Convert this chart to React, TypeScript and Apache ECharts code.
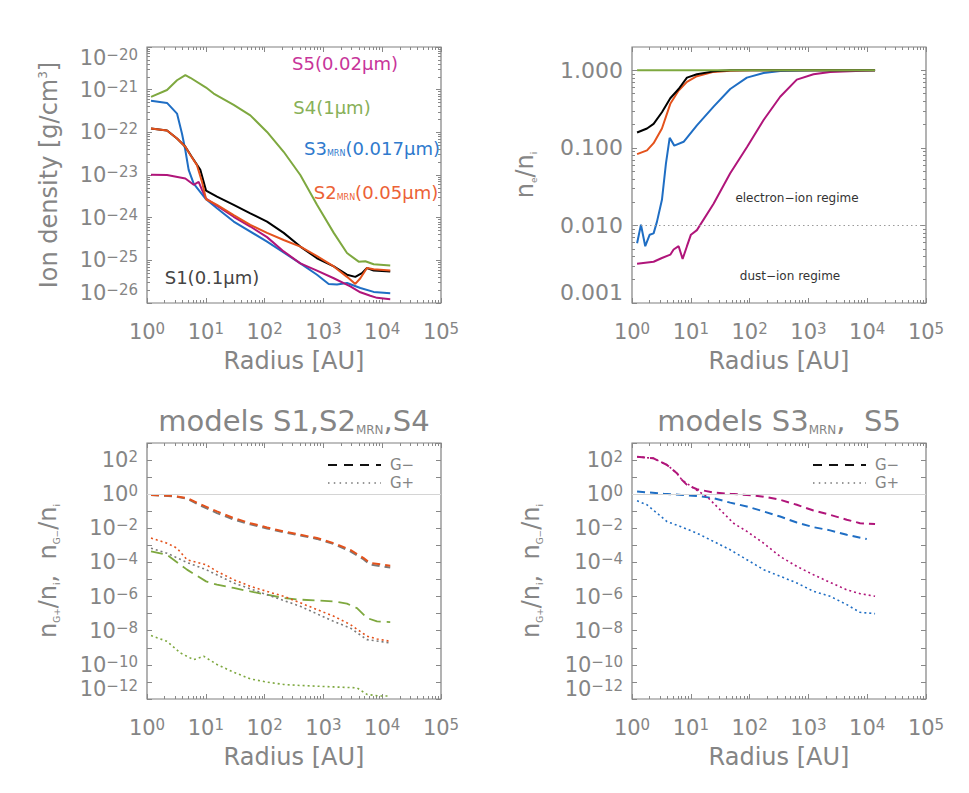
import React, { useEffect, useRef } from "react";
import * as echarts from "echarts";

// ---------------- Data ----------------
// Panel 1: ion density [g/cm^3] vs radius [AU]   pairs: [radius, density]
const densS1: [number, number][] = [[1.17,1.23e-22],[2.19,1.1e-22],[3.24,7.2e-23],[4.49,4.6e-23],[5.83,2.6e-23],[8.07,1.32e-23],[10.1,4.3e-24],[15.5,3.1e-24],[29.8,2.0e-24],[57.2,1.26e-24],[110,8.1e-25],[211,4.4e-25],[405,2.1e-25],[778,1.12e-25],[1500,7.2e-26],[2520,4.6e-26],[3490,4.1e-26],[4530,5.0e-26],[5510,6.6e-26],[7160,5.75e-26],[13700,5.5e-26]];
const densS2: [number, number][] = [[1.17,1.23e-22],[2.19,1.1e-22],[3.24,7.2e-23],[4.49,4.6e-23],[5.46,2.95e-23],[7.08,1.7e-23],[8.62,6.9e-24],[10.1,2.7e-24],[15.5,2.0e-24],[29.8,1.15e-24],[57.2,6.8e-25],[110,4.4e-25],[211,3.0e-25],[405,2.1e-25],[778,1.26e-25],[1500,7.2e-26],[2520,4.1e-26],[3490,2.8e-26],[4250,3.8e-26],[5510,6.6e-26],[7160,6.2e-26],[13700,5.75e-26]];
const densS3: [number, number][] = [[1.17,5.5e-22],[2.19,4.9e-22],[3.24,2.75e-22],[3.94,9.3e-23],[4.49,3.8e-23],[5.11,1.32e-23],[6.22,6.3e-24],[10.1,2.7e-24],[15.5,1.66e-24],[29.8,8.1e-25],[110,2.75e-25],[405,8.5e-26],[778,4.6e-26],[1230,2.8e-26],[1700,2.7e-26],[2520,2.95e-26],[4250,2.24e-26],[7160,1.82e-26],[13700,1.7e-26]];
const densS4: [number, number][] = [[1.17,6.8e-22],[2.19,9.8e-22],[3.24,1.66e-21],[4.49,2.2e-21],[5.46,1.9e-21],[10.1,1.12e-21],[13.6,8.1e-22],[29.8,4.4e-22],[57.2,2.5e-22],[110,1.02e-22],[211,3.5e-23],[405,1.0e-23],[778,2.0e-24],[1500,4.4e-25],[2520,1.48e-25],[3980,9.3e-26],[5160,9.5e-26],[7160,8.1e-26],[13700,7.6e-26]];
const densS5: [number, number][] = [[1.17,1.02e-23],[2.19,1.0e-23],[4.49,8.3e-24],[6.22,5.9e-24],[7.56,6.9e-24],[8.62,4.5e-24],[10.1,2.8e-24],[29.8,1.05e-24],[57.2,6.2e-25],[110,3.5e-25],[211,1.62e-25],[405,8.5e-26],[778,5.75e-26],[1500,3.8e-26],[2870,2.45e-26],[4250,1.78e-26],[6280,1.48e-26],[8160,1.32e-26],[13700,1.23e-26]];

// Panel 2: n_e / n_i vs radius
const eRatioS1: [number, number][] = [[1.22,0.158],[1.8,0.178],[2.33,0.204],[3.23,0.288],[4.48,0.437],[6.21,0.575],[8.6,0.805],[12.7,0.89],[24.4,0.97],[46.8,1.0],[13600,1.0]];
const eRatioS2: [number, number][] = [[1.22,0.083],[1.8,0.093],[2.33,0.115],[3.23,0.178],[4.48,0.37],[6.21,0.55],[8.6,0.71],[12.7,0.84],[24.4,0.955],[46.8,0.99],[100,1.0],[13600,1.0]];
const eRatioS3: [number, number][] = [[1.22,0.0059],[1.42,0.0102],[1.68,0.0054],[2.0,0.0076],[2.33,0.0079],[2.66,0.0112],[3.23,0.0214],[3.78,0.063],[4.37,0.135],[5.24,0.107],[7.55,0.12],[12.7,0.195],[24.4,0.34],[46.8,0.575],[89.9,0.805],[173,0.925],[331,0.98],[1220,1.0],[13600,1.0]];
const eRatioS4: [number, number][] = [[1.22,1.0],[13600,1.0]];
const eRatioS5: [number, number][] = [[1.22,0.0032],[2.33,0.0034],[3.23,0.0038],[4.48,0.0042],[5.1,0.0049],[6.21,0.0054],[7.26,0.0037],[8.6,0.0054],[10.05,0.0076],[12.7,0.0087],[24.4,0.019],[46.8,0.047],[89.9,0.102],[173,0.229],[331,0.457],[635,0.76],[1220,0.89],[2340,0.955],[13600,1.0]];

// Panel 3: grain charge fractions, models S1, S2_MRN, S4
const gMinusS1: [number, number][] = [[1.17,0.89],[2.84,0.76],[4.79,0.55],[8.07,0.22],[15.5,0.078],[29.8,0.033],[57.2,0.017],[110,0.0098],[211,0.006],[405,0.0038],[778,0.0024],[1500,0.0012],[2870,0.00045],[4840,0.00015],[6280,7.5e-5],[13700,5.1e-5]];
const gMinusS2: [number, number][] = [[1.17,0.91],[2.84,0.79],[4.79,0.59],[8.07,0.26],[15.5,0.098],[29.8,0.04],[57.2,0.02],[110,0.0112],[211,0.0066],[405,0.0042],[778,0.0027],[1500,0.00135],[2870,0.00055],[4840,0.00018],[6280,9.3e-5],[13700,6.5e-5]];
const gMinusS4: [number, number][] = [[1.17,4.5e-4],[2.19,2.8e-4],[4.79,3.8e-5],[10.1,7.8e-6],[15.5,5.0e-6],[29.8,3.2e-6],[57.2,2.0e-6],[110,1.29e-6],[211,8.3e-7],[405,6.6e-7],[778,6.0e-7],[1500,5.2e-7],[2520,3.9e-7],[3730,2.1e-7],[5510,5.6e-8],[8160,3.5e-8],[13700,3.2e-8]];
const gPlusS1: [number, number][] = [[1.17,6.9e-4],[2.19,3.5e-4],[4.79,1.0e-4],[10.1,3.8e-5],[29.8,6.3e-6],[110,1.29e-6],[405,2.7e-7],[1500,3.5e-8],[2870,1.45e-8],[5510,3.0e-9],[13700,1.95e-9]];
const gPlusS2: [number, number][] = [[1.17,2.7e-3],[2.19,1.35e-3],[3.24,6.9e-4],[4.79,1.45e-4],[10.1,7.4e-5],[15.5,3.0e-5],[29.8,9.8e-6],[57.2,4.0e-6],[110,2.0e-6],[211,1.05e-6],[405,4.3e-7],[778,1.74e-7],[1500,7.1e-8],[2870,2.3e-8],[5510,4.8e-9],[8160,3.3e-9],[13700,2.4e-9]];
const gPlusS4: [number, number][] = [[1.17,5.2e-9],[2.19,2.4e-9],[3.69,5.0e-10],[6.22,2.0e-10],[9.2,3.2e-10],[15.5,1.05e-10],[29.8,3.7e-11],[57.2,1.5e-11],[110,9.8e-12],[211,7.1e-12],[405,6.2e-12],[1500,5.1e-12],[3730,4.5e-12],[5510,1.86e-12],[9120,1.5e-12],[13700,1.5e-12]];

// Panel 4: grain charge fractions, models S3_MRN, S5
const gMinusS3: [number, number][] = [[1.22,1.45],[3.45,1.05],[12.7,0.79],[24.4,0.59],[46.8,0.32],[89.9,0.19],[173,0.098],[331,0.049],[635,0.022],[1220,0.0117],[2340,0.0076],[4490,0.0042],[9820,0.00234]];
const gMinusS5: [number, number][] = [[1.22,158],[2.33,126],[3.93,52],[5.81,17],[7.07,6.9],[8.6,3.5],[12.7,1.95],[24.4,1.26],[46.8,1.05],[89.9,0.91],[173,0.72],[331,0.47],[635,0.24],[1220,0.11],[2340,0.062],[4490,0.032],[7560,0.02],[13600,0.0178]];
const gPlusS3: [number, number][] = [[1.22,0.41],[1.8,0.24],[2.66,0.078],[3.93,0.025],[6.62,0.0129],[12.7,5.2e-3],[24.4,1.7e-3],[46.8,5.5e-4],[89.9,1.45e-4],[173,3.8e-5],[331,1.55e-5],[635,6.3e-6],[1220,2.04e-6],[2340,1.05e-6],[4490,3.4e-7],[7560,1.2e-7],[13600,1.0e-7]];
const gPlusS5: [number, number][] = [[1.22,158],[2.33,126],[3.93,52],[5.81,17],[7.07,6.9],[11.2,2.24],[18.8,0.72],[31.7,0.12],[53.3,0.02],[89.9,6.6e-3],[173,1.35e-3],[331,2.24e-4],[635,5.9e-5],[1220,1.9e-5],[2340,6.8e-6],[4490,2.5e-6],[7560,1.48e-6],[13600,1.05e-6]];

// Axis ranges (decades)
const X_DECADES = [0, 5];
const DENS_DECADES = [-26, -20];
const ERATIO_RANGE = [0.001, 2];
const GFRAC_DECADES = [-12, 3];
const ERATIO_LABELS = [0.001, 0.01, 0.1, 1];
const GFRAC_LABEL_EXPS = [-12, -10, -8, -6, -4, -2, 0, 2];

// ---------------- Style ----------------
const FONT = "DejaVu Sans";
const GRAY = "#858585";
const AXIS = "#888888";
const C_BLACK = "#000000";
const C_RED = "#e4521c";
const C_BLUE = "#1f6ec4";
const C_GREEN = "#7ea83f";
const C_MAG = "#b0157a";
const C_GRAYLINE = "#7a7a7a";

const GRIDS = [
  { left: 147, top: 47 },
  { left: 632, top: 47 },
  { left: 147, top: 443 },
  { left: 632, top: 443 },
];
const GW = 294;
const GH = 256;

const lg = Math.log10;
const toLog = (pts: [number, number][]) => pts.map(([r, v]) => [lg(r), lg(v)]);

function intRange(lo: number, hi: number) {
  const a: number[] = [];
  for (let e = lo; e <= hi; e++) a.push(e);
  return a;
}
function minorLogTicks(lo: number, hi: number, maxLog: number) {
  const a: number[] = [];
  for (let e = lo; e < hi + 1; e++) {
    for (let k = 2; k <= 9; k++) {
      const t = e + lg(k);
      if (t < maxLog - 1e-9 && t > lo) a.push(t);
    }
  }
  return a;
}

// superscript: small lineHeight + top alignment raises it above the "10"
const powRich = {
  b: { fontSize: 21, lineHeight: 21, color: GRAY, fontFamily: FONT },
  s: { fontSize: 15, lineHeight: 6, verticalAlign: "top", color: GRAY, fontFamily: FONT },
};
const powFmt = (v: number) => {
  const e = Math.round(v);
  return "{b|10}{s|" + (e < 0 ? "\u2212" + -e : String(e)) + "}";
};

const tickLine = { color: AXIS, width: 1 };

function xAxesFor(g: number) {
  const [lo, hi] = X_DECADES;
  const base: any = {
    type: "value",
    gridIndex: g,
    min: lo,
    max: hi,
    interval: 1,
    axisLine: { show: false, onZero: false },
    splitLine: { show: false },
    axisPointer: { show: false },
  };
  const major = intRange(lo, hi);
  const minor = minorLogTicks(lo, hi - 1, hi);
  return [
    {
      ...base,
      position: "bottom",
      axisTick: { show: true, inside: true, length: 5, customValues: major, lineStyle: tickLine },
      axisLabel: {
        show: true,
        customValues: major,
        formatter: powFmt,
        rich: powRich,
        margin: 18,
        hideOverlap: false,
        showMinLabel: true,
        showMaxLabel: true,
      },
      name: "Radius [AU]",
      nameLocation: "middle",
      nameGap: 46,
      nameTextStyle: { fontSize: 24, color: GRAY, fontFamily: FONT },
    },
    { ...base, position: "bottom", axisTick: { show: true, inside: true, length: 3, customValues: minor, lineStyle: tickLine }, axisLabel: { show: false } },
    { ...base, position: "top", axisTick: { show: true, inside: true, length: 5, customValues: major, lineStyle: tickLine }, axisLabel: { show: false } },
    { ...base, position: "top", axisTick: { show: true, inside: true, length: 3, customValues: minor, lineStyle: tickLine }, axisLabel: { show: false } },
  ];
}

function yAxesFor(g: number, cfg: any) {
  const base: any = {
    type: "value",
    gridIndex: g,
    min: cfg.min,
    max: cfg.max,
    interval: 1,
    axisLine: { show: false, onZero: false },
    splitLine: { show: false },
    axisPointer: { show: false },
  };
  const axes: any[] = [
    {
      ...base,
      position: "left",
      axisTick: { show: true, inside: true, length: 5, customValues: cfg.major, lineStyle: tickLine },
      axisLabel: {
        show: true,
        customValues: cfg.labels,
        formatter: cfg.formatter,
        rich: powRich,
        fontSize: 22,
        color: GRAY,
        fontFamily: FONT,
        margin: 9,
        hideOverlap: false,
        showMinLabel: true,
        showMaxLabel: true,
        ...(cfg.labelExtra || {}),
      },
      name: cfg.name,
      nameLocation: "middle",
      nameGap: cfg.nameGap,
      nameTextStyle: { fontSize: 24, color: GRAY, fontFamily: FONT, rich: cfg.nameRich },
    },
    { ...base, position: "left", axisTick: { show: cfg.minor.length > 0, inside: true, length: 3, customValues: cfg.minor.length ? cfg.minor : [cfg.min], lineStyle: tickLine }, axisLabel: { show: false } },
    { ...base, position: "right", axisTick: { show: true, inside: true, length: 5, customValues: cfg.major, lineStyle: tickLine }, axisLabel: { show: false } },
    { ...base, position: "right", axisTick: { show: cfg.minor.length > 0, inside: true, length: 3, customValues: cfg.minor.length ? cfg.minor : [cfg.min], lineStyle: tickLine }, axisLabel: { show: false } },
  ];
  return axes;
}

function lineSeries(data: [number, number][], color: string, g: number, width = 2, type: any = "solid", extra: any = {}) {
  return {
    type: "line",
    data: toLog(data),
    xAxisIndex: 4 * g,
    yAxisIndex: 4 * g,
    symbol: "none",
    showSymbol: false,
    silent: true,
    lineStyle: { color, width, type },
    itemStyle: { color },
    emphasis: { disabled: true },
    ...extra,
  };
}

const subRich = (size: number, color: string) => ({
  sub: { fontSize: size, fill: color, fontFamily: FONT, verticalAlign: "bottom", lineHeight: size },
});

function gText(x: number, y: number, text: string, size: number, color: string, rich?: any) {
  return {
    type: "text",
    x,
    y,
    silent: true,
    style: {
      text,
      fontSize: size,
      fontFamily: FONT,
      fill: color,
      align: "center",
      verticalAlign: "middle",
      textAlign: "center",
      textVerticalAlign: "middle",
      rich,
    },
  };
}

export default function App() {
  const ref = useRef<HTMLDivElement>(null);

  useEffect(() => {
    if (!ref.current) return;
    const chart = echarts.init(ref.current, null, { renderer: "svg", width: 969, height: 793 });

    const densMinor = minorLogTicks(DENS_DECADES[0], DENS_DECADES[1] - 1, DENS_DECADES[1]);
    const eLo = Math.round(lg(ERATIO_RANGE[0]));
    const eHi = lg(ERATIO_RANGE[1]);
    const eMinor = minorLogTicks(eLo, 0, eHi);

    const nameSubRich = {
      m: { fontSize: 24, lineHeight: 26, color: GRAY, fontFamily: FONT },
      sub: { fontSize: 9, lineHeight: 9, verticalAlign: "bottom", color: GRAY, fontFamily: FONT },
    };

    const yCfgs = [
      {
        min: DENS_DECADES[0],
        max: DENS_DECADES[1],
        major: intRange(DENS_DECADES[0], DENS_DECADES[1]),
        minor: densMinor,
        labels: intRange(DENS_DECADES[0], DENS_DECADES[1]),
        formatter: powFmt,
        labelExtra: { verticalAlignMinLabel: "bottom", verticalAlignMaxLabel: "top" },
        name: "Ion density [g/cm{s|3}]",
        nameRich: { s: { fontSize: 12, verticalAlign: "top", lineHeight: 12, color: GRAY, fontFamily: FONT } },
        nameGap: 86,
      },
      {
        min: eLo,
        max: eHi,
        major: intRange(eLo, 0),
        minor: eMinor,
        labels: ERATIO_LABELS.map(lg),
        formatter: (v: number) => Math.pow(10, Math.round(v)).toFixed(3),
        labelExtra: { verticalAlignMinLabel: "bottom" },
        name: "{m|n}{sub|e}{m|/n}{sub|i}",
        nameRich: nameSubRich,
        nameGap: 94,
      },
    ];
    const gCfg = (g: number) => ({
      min: GFRAC_DECADES[0],
      max: GFRAC_DECADES[1],
      major: intRange(GFRAC_DECADES[0], GFRAC_DECADES[1]),
      minor: [] as number[],
      labels: GFRAC_LABEL_EXPS,
      formatter: powFmt,
      labelExtra: { verticalAlignMinLabel: "bottom" },
      name: "{m|n}{sub|G+}{m|/n}{sub|i}{m|,  n}{sub|G\u2212}{m|/n}{sub|i}",
      nameRich: nameSubRich,
      nameGap: g === 2 ? 86 : 88,
    });

    const xAxis: any[] = [];
    const yAxis: any[] = [];
    for (let g = 0; g < 4; g++) {
      xAxis.push(...xAxesFor(g));
      yAxis.push(...yAxesFor(g, g < 2 ? yCfgs[g] : gCfg(g)));
    }

    const dash = [8, 5];
    const dashLong = [12, 6];
    const dot = [2, 3];

    const refLine = (y: number, color: string, type: any) => ({
      markLine: {
        silent: true,
        symbol: "none",
        label: { show: false },
        lineStyle: { color, width: 1, type },
        data: [{ yAxis: y }],
      },
    });

    const series: any[] = [
      // Panel 1
      lineSeries(densS4, C_GREEN, 0),
      lineSeries(densS3, C_BLUE, 0),
      lineSeries(densS5, C_MAG, 0),
      lineSeries(densS1, C_BLACK, 0),
      lineSeries(densS2, C_RED, 0),
      // Panel 2
      lineSeries(eRatioS5, C_MAG, 1, 2, "solid", refLine(lg(0.01), "#9a9a9a", [1.5, 3])),
      lineSeries(eRatioS3, C_BLUE, 1),
      lineSeries(eRatioS2, C_RED, 1),
      lineSeries(eRatioS1, C_BLACK, 1),
      lineSeries(eRatioS4, C_GREEN, 1),
      // Panel 3
      lineSeries(gPlusS4, C_GREEN, 2, 1.6, dot, refLine(0, "#d4d4d4", "solid")),
      lineSeries(gMinusS4, C_GREEN, 2, 1.8, dashLong),
      lineSeries(gPlusS1, C_GRAYLINE, 2, 1.6, dot),
      lineSeries(gPlusS2, C_RED, 2, 1.6, dot),
      lineSeries(gMinusS1, C_GRAYLINE, 2, 2, dash),
      lineSeries(gMinusS2, C_RED, 2, 2, dash),
      // Panel 4
      lineSeries(gPlusS3, C_BLUE, 3, 1.6, dot, refLine(0, "#d4d4d4", "solid")),
      lineSeries(gMinusS3, C_BLUE, 3, 2, dash),
      lineSeries(gPlusS5, C_MAG, 3, 1.6, dot),
      lineSeries(gMinusS5, C_MAG, 3, 2, dash),
    ];

    const graphic: any[] = [
      // Panel 1 labels
      gText(345, 63, "S5(0.02\u03bcm)", 18, "#c8359a"),
      gText(332, 107, "S4(1\u03bcm)", 18, "#88b058"),
      gText(372, 148, "S3{sub|MRN}(0.017\u03bcm)", 18, "#2f7acd", subRich(8, "#2f7acd")),
      gText(376, 192, "S2{sub|MRN}(0.05\u03bcm)", 18, "#ec6236", subRich(8, "#ec6236")),
      gText(212, 277, "S1(0.1\u03bcm)", 18, "#444444"),
      // Panel 2 annotations
      gText(797, 198, "electron\u2212ion regime", 12, "#333333"),
      gText(790, 276, "dust\u2212ion regime", 12, "#333333"),
      // Titles
      gText(294, 421, "models S1,S2{sub|MRN},S4", 29, GRAY, subRich(12, GRAY)),
      gText(779, 421, "models S3{sub|MRN},  S5", 29, GRAY, subRich(12, GRAY)),
    ];
    // legends in bottom panels
    [GRIDS[2], GRIDS[3]].forEach((gr) => {
      const x0 = gr.left + 181;
      graphic.push({
        type: "line",
        silent: true,
        shape: { x1: x0, y1: 465, x2: x0 + 53, y2: 465 },
        style: { stroke: "#111111", lineWidth: 2, lineDash: [9, 7] },
      });
      graphic.push({
        type: "line",
        silent: true,
        shape: { x1: x0, y1: 483, x2: x0 + 53, y2: 483 },
        style: { stroke: "#333333", lineWidth: 1.2, lineDash: [1.5, 4.3] },
      });
      graphic.push(gText(x0 + 74, 465, "G\u2212", 15, GRAY));
      graphic.push(gText(x0 + 74, 483, "G+", 15, GRAY));
    });

    chart.setOption({
      animation: false,
      backgroundColor: "#ffffff",
      textStyle: { fontFamily: FONT },
      grid: GRIDS.map((g) => ({
        left: g.left,
        top: g.top,
        width: GW,
        height: GH,
        show: true,
        borderColor: "#808080",
        borderWidth: 1.2,
        backgroundColor: "transparent",
        containLabel: false,
        outerBoundsMode: "none",
      })),
      xAxis,
      yAxis,
      series,
      graphic,
    });

    return () => chart.dispose();
  }, []);

  return (
    <div
      ref={ref}
      style={{ position: "absolute", left: 0, top: 0, width: 969, height: 793, background: "#fff" }}
    />
  );
}
